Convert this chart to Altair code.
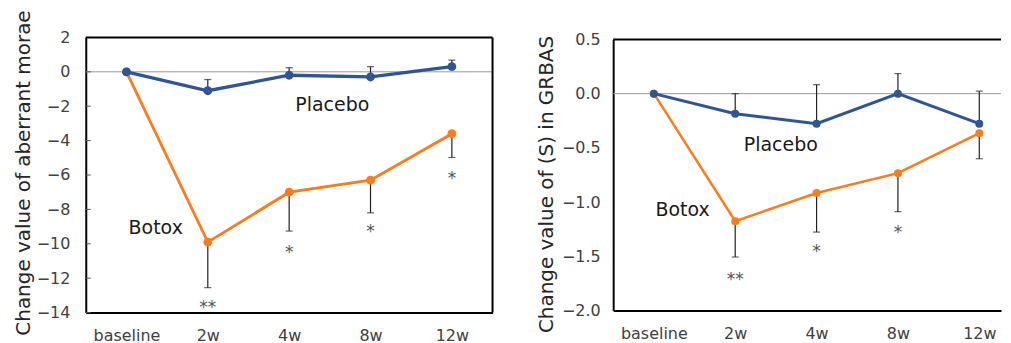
import altair as alt
import pandas as pd

categories = ["baseline", "2w", "4w", "8w", "12w"]
positions = [0, 1, 2, 3, 4]

# Left panel: change value of aberrant morae
morae_placebo = [0.0, -1.1, -0.2, -0.3, 0.3]
morae_placebo_sd = [0.0, 0.65, 0.44, 0.6, 0.38]
morae_botox = [0.0, -9.9, -7.0, -6.3, -3.6]
morae_botox_sd = [0.0, 2.65, 2.26, 1.9, 1.38]
morae_star_labels = ["**", "*", "*", "*"]
morae_star_pos = [1, 2, 3, 4]
morae_star_y = [-13.5, -10.3, -9.1, -6.0]
morae_ticks = [2, 0, -2, -4, -6, -8, -10, -12, -14]
morae_label_text = ["Placebo", "Botox"]
morae_label_pos = [2.53, 0.36]
morae_label_y = [-1.94, -9.07]

# Right panel: change value of (S) in GRBAS
grbas_placebo = [0.0, -0.185, -0.277, 0.0, -0.277]
grbas_placebo_sd = [0.0, 0.185, 0.36, 0.185, 0.30]
grbas_botox = [0.0, -1.176, -0.916, -0.733, -0.365]
grbas_botox_sd = [0.0, 0.33, 0.36, 0.355, 0.235]
grbas_star_labels = ["**", "*", "*"]
grbas_star_pos = [1, 2, 3]
grbas_star_y = [-1.68, -1.42, -1.25]
grbas_ticks = [0.5, 0.0, -0.5, -1.0, -1.5, -2.0]
grbas_label_text = ["Placebo", "Botox"]
grbas_label_pos = [1.56, 0.354]
grbas_label_y = [-0.47, -1.075]

BLUE = "#2F5597"
ORANGE = "#FF7B1C"
FONT = "DejaVu Sans"

label_expr = "[" + ",".join("'" + c + "'" for c in categories) + "][datum.value]"


def panel(placebo, placebo_sd, botox, botox_sd, star_labels, star_pos, star_y,
          ticks, label_text, label_pos, label_y, ydomain, yfmt, title,
          width, height, xmax, title_x, title_y, label_pad, right_edge, inner_ticks,
          point_size, blue_w, orange_w):
    xs = alt.Scale(domain=[-0.5, xmax], nice=False, zero=False)
    ys = alt.Scale(domain=ydomain, nice=False, zero=False)
    xaxis = alt.Axis(values=positions, labelExpr=label_expr, title=None, ticks=False,
                     grid=False, labelPadding=15, labelFontSize=16)
    yaxis = alt.Axis(values=ticks, format=yfmt, title=title, ticks=False, grid=False,
                     labelPadding=label_pad, titleX=title_x, titleY=title_y,
                     titleBaseline="middle", titleAngle=270)

    def X(f):
        return alt.X(f + ":Q", scale=xs, axis=xaxis)

    def Y(f):
        return alt.Y(f + ":Q", scale=ys, axis=yaxis)

    pl = pd.DataFrame({"pos": positions, "val": placebo,
                       "end": [v + s for v, s in zip(placebo, placebo_sd)]})
    bt = pd.DataFrame({"pos": positions, "val": botox,
                       "end": [v - s for v, s in zip(botox, botox_sd)]})
    pl_err = pl[pl["pos"] > 0]
    bt_err = bt[bt["pos"] > 0]
    stars = pd.DataFrame({"pos": star_pos, "val": star_y, "txt": star_labels})
    labels = pd.DataFrame({"pos": label_pos, "val": label_y, "txt": label_text})

    layers = []
    layers.append(alt.Chart(pd.DataFrame({"val": [0.0]})).mark_rule(
        color="#9a9a9a", strokeWidth=1).encode(y=Y("val")))
    if inner_ticks:
        layers.append(alt.Chart(pd.DataFrame({"val": ticks})).mark_rule(
            color="#555555", strokeWidth=1).encode(
            y=Y("val"), x=alt.value(0), x2=alt.value(5)))
    for d in (bt_err, pl_err):
        layers.append(alt.Chart(d).mark_rule(color="#222222", strokeWidth=1.2).encode(
            x=X("pos"), y=Y("val"), y2="end"))
        layers.append(alt.Chart(d).mark_tick(color="#222222", thickness=1.2, size=7,
                                             orient="horizontal").encode(
            x=X("pos"), y=Y("end")))
    for d, col, sw in ((bt, ORANGE, orange_w), (pl, BLUE, blue_w)):
        layers.append(alt.Chart(d).mark_line(color=col, strokeWidth=sw).encode(
            x=X("pos"), y=Y("val")))
        layers.append(alt.Chart(d).mark_circle(color=col, size=point_size, opacity=1).encode(
            x=X("pos"), y=Y("val")))
    layers.append(alt.Chart(stars).mark_text(
        font=FONT, fontSize=17, color="#555555", baseline="middle", dy=4).encode(
        x=X("pos"), y=Y("val"), text="txt:N"))
    layers.append(alt.Chart(labels).mark_text(
        font=FONT, fontSize=19, color="#1a1a1a", baseline="middle").encode(
        x=X("pos"), y=Y("val"), text="txt:N"))
    # frame
    layers.append(alt.Chart(pd.DataFrame({"val": [ydomain[1]]})).mark_rule(
        color="black", strokeWidth=2).encode(y=Y("val")))
    if right_edge:
        layers.append(alt.Chart(pd.DataFrame({"pos": [xmax]})).mark_rule(
            color="black", strokeWidth=2).encode(x=X("pos")))
    return alt.layer(*layers).properties(width=width, height=height)


left = panel(morae_placebo, morae_placebo_sd, morae_botox, morae_botox_sd,
             morae_star_labels, morae_star_pos, morae_star_y, morae_ticks,
             morae_label_text, morae_label_pos, morae_label_y,
             [-14, 2], "d", "Change value of aberrant morae",
             408, 276, 4.5, -62, 135.5, 16, True, True, 78, 3.3, 2.8)

right = panel(grbas_placebo, grbas_placebo_sd, grbas_botox, grbas_botox_sd,
              grbas_star_labels, grbas_star_pos, grbas_star_y, grbas_ticks,
              grbas_label_text, grbas_label_pos, grbas_label_y,
              [-2.0, 0.5], ".1f", "Change value of (S) in GRBAS",
              389, 272, 4.267, -67, 145, 13, False, False, 64, 3.0, 2.5)

chart = alt.hconcat(left, right, spacing=121, bounds="flush", center=True).properties(
    padding={"left": 5, "top": 0, "right": 0, "bottom": 0}
).configure_view(stroke="transparent").configure_axis(
    labelFont=FONT, labelFontSize=16, labelColor="#404040",
    titleFont=FONT, titleFontSize=20, titleFontWeight="normal", titleColor="#262626",
    domainColor="black", domainWidth=2
)

chart.save("out.html", embed_options={"renderer": "svg", "actions": False})
